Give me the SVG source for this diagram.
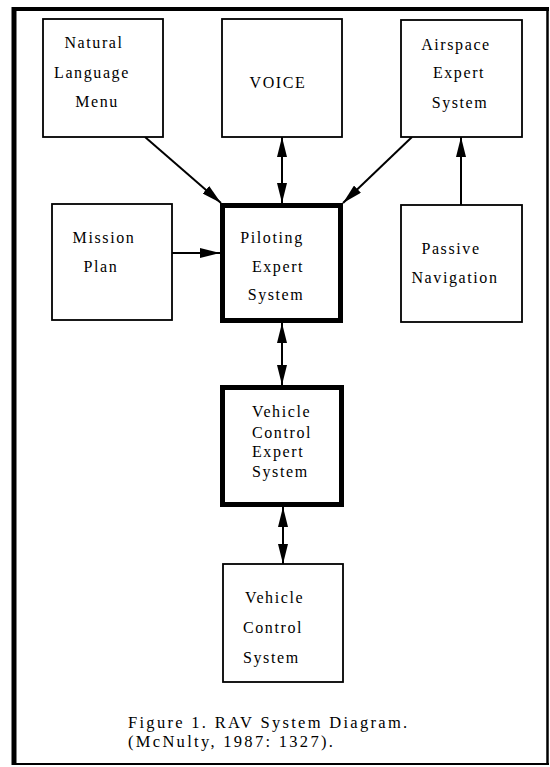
<svg xmlns="http://www.w3.org/2000/svg" width="550" height="767" viewBox="0 0 550 767">
<style>
.box{fill:#fff;stroke:#000;stroke-width:1.8}
.thick{fill:#fff;stroke:#000;stroke-width:5}
.t{font-family:"Liberation Serif","Times New Roman",serif;font-size:16px;letter-spacing:1.6px;fill:#000}
.m{text-anchor:middle}
.cap{font-family:"Liberation Serif","Times New Roman",serif;font-size:16.5px;letter-spacing:2.3px;fill:#000}
.c{stroke:#000;stroke-width:2;fill:none}
</style>
<defs>
<marker id="ah" viewBox="0 0 20 10" refX="20" refY="5" markerWidth="20" markerHeight="10" markerUnits="userSpaceOnUse" orient="auto-start-reverse">
<path d="M0,0 L20,5 L0,10 z" fill="#000"/>
</marker>
</defs>
<rect width="550" height="767" fill="#fff"/>
<g id="frame">
<line x1="14" y1="7" x2="14" y2="765" stroke="#000" stroke-width="5"/>
<line x1="12" y1="9" x2="549" y2="9" stroke="#000" stroke-width="4"/>
<line x1="547.5" y1="7" x2="547.5" y2="765" stroke="#000" stroke-width="2.5"/>
<line x1="12" y1="764" x2="549" y2="764" stroke="#000" stroke-width="2"/>
</g>
<g id="connectors">
<line class="c" x1="145" y1="137" x2="221" y2="203" marker-end="url(#ah)"/>
<line class="c" x1="282" y1="137" x2="282" y2="203" marker-start="url(#ah)" marker-end="url(#ah)"/>
<line class="c" x1="412" y1="137" x2="343" y2="203" marker-end="url(#ah)"/>
<line class="c" x1="461" y1="205" x2="461" y2="137" marker-end="url(#ah)"/>
<line class="c" x1="172" y1="253" x2="220" y2="253" marker-end="url(#ah)"/>
<line class="c" x1="282" y1="323" x2="282" y2="385" marker-start="url(#ah)" marker-end="url(#ah)"/>
<line class="c" x1="283" y1="507" x2="283" y2="564" marker-start="url(#ah)" marker-end="url(#ah)"/>
</g>
<g id="natural-language-menu">
<rect class="box" x="43" y="19" width="120" height="118"/>
<text class="t m" x="94" y="48">Natural</text>
<text class="t m" x="92" y="78">Language</text>
<text class="t m" x="97" y="107">Menu</text>
</g>
<g id="voice">
<rect class="box" x="222" y="19" width="120" height="118"/>
<text class="t m" x="278" y="88">VOICE</text>
</g>
<g id="airspace-expert-system">
<rect class="box" x="401" y="20" width="121" height="117"/>
<text class="t m" x="456" y="50">Airspace</text>
<text class="t m" x="459" y="78">Expert</text>
<text class="t m" x="460" y="108">System</text>
</g>
<g id="mission-plan">
<rect class="box" x="52" y="204" width="120" height="116"/>
<text class="t m" x="104" y="243">Mission</text>
<text class="t m" x="101" y="272">Plan</text>
</g>
<g id="piloting-expert-system">
<rect class="thick" x="222.5" y="205.5" width="118" height="115"/>
<text class="t m" x="272" y="243">Piloting</text>
<text class="t m" x="278" y="272">Expert</text>
<text class="t m" x="276" y="300">System</text>
</g>
<g id="passive-navigation">
<rect class="box" x="401" y="205" width="121" height="117"/>
<text class="t m" x="451" y="254">Passive</text>
<text class="t m" x="455" y="283">Navigation</text>
</g>
<g id="vehicle-control-expert-system">
<rect class="thick" x="222.5" y="387.5" width="119" height="117"/>
<text class="t" x="252" y="417">Vehicle</text>
<text class="t" x="252" y="438">Control</text>
<text class="t" x="252" y="457">Expert</text>
<text class="t" x="252" y="477">System</text>
</g>
<g id="vehicle-control-system">
<rect class="box" x="223" y="564" width="120" height="118"/>
<text class="t" x="245" y="603">Vehicle</text>
<text class="t" x="243" y="633">Control</text>
<text class="t" x="243" y="663">System</text>
</g>
<g id="caption">
<text class="cap" x="128" y="728">Figure 1. RAV System Diagram.</text>
<text class="cap" x="128" y="747">(McNulty, 1987: 1327).</text>
</g>
</svg>
